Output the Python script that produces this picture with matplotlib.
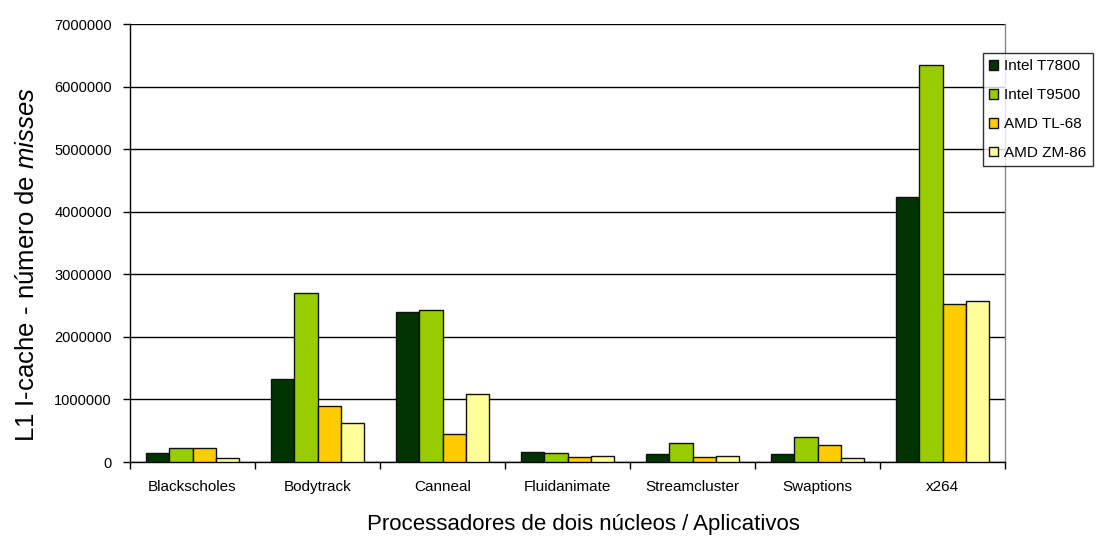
import numpy as np
import matplotlib
matplotlib.use("Agg")
import matplotlib.pyplot as plt

plt.rcParams['font.family'] = ['Liberation Sans', 'DejaVu Sans']
plt.rcParams['mathtext.fontset'] = 'custom'
plt.rcParams['mathtext.it'] = 'Liberation Sans:italic'
plt.rcParams['mathtext.rm'] = 'Liberation Sans'

categories = ["Blackscholes", "Bodytrack", "Canneal", "Fluidanimate",
              "Streamcluster", "Swaptions", "x264"]
series_names = ["Intel T7800", "Intel T9500", "AMD TL-68", "AMD ZM-86"]
intel_t7800 = [140000, 1330000, 2400000, 160000, 120000, 120000, 4230000]
intel_t9500 = [220000, 2700000, 2430000, 150000, 300000, 400000, 6350000]
amd_tl68 = [220000, 890000, 440000, 80000, 80000, 270000, 2530000]
amd_zm86 = [70000, 620000, 1080000, 90000, 90000, 60000, 2580000]
colors = ["#003300", "#99cc00", "#ffcc00", "#ffff99"]

fig = plt.figure(figsize=(10.99, 5.37), dpi=100)
ax = fig.add_axes([130 / 1099, 1 - 462 / 537, 875 / 1099, 438 / 537])

values = [intel_t7800, intel_t9500, amd_tl68, amd_zm86]
n = len(categories)
x = np.arange(n)
width = 0.187
for i, (vals, name, c) in enumerate(zip(values, series_names, colors)):
    ax.bar(x + (i - 1.5) * width, vals, width, color=c, edgecolor="#111111",
           linewidth=1.0, label=name, zorder=3)

ax.set_xlim(-0.5, n - 0.5)
ax.set_ylim(0, 7000000)
ax.set_yticks(np.arange(0, 7000001, 1000000))
ax.set_yticklabels([str(v) for v in range(0, 7000001, 1000000)], fontsize=10.5)
ax.yaxis.grid(True, color="#000000", linewidth=1.0, zorder=0)
ax.set_axisbelow(True)

ax.set_xticks(np.arange(-0.5, n, 1.0))
ax.set_xticklabels([])
ax.set_xticks(x, minor=True)
ax.set_xticklabels(categories, minor=True, fontsize=11)
ax.tick_params(axis="x", which="minor", length=0, pad=13)
ax.tick_params(axis="x", which="major", length=5, width=1, direction="out")
ax.tick_params(axis="y", length=5, width=1, direction="out", pad=8)

for s in ["left", "bottom"]:
    ax.spines[s].set_color("#000000")
    ax.spines[s].set_linewidth(1.0)
ax.spines["top"].set_visible(False)
ax.spines["right"].set_color("#888888")
ax.spines["right"].set_linewidth(1.0)

ax.set_ylabel(r"L1 I-cache - número de $\it{misses}$", fontsize=18.5)
ax.yaxis.set_label_coords(-0.104, 0.452)
ax.set_xlabel("Processadores de dois núcleos / Aplicativos", fontsize=16)
ax.xaxis.set_label_coords(0.518, -0.118)

leg = fig.legend(loc="upper left", bbox_to_anchor=(983 / 1099, 1 - 53 / 537),
                 fontsize=11, frameon=True, fancybox=False, edgecolor="#000000",
                 handlelength=0.6, handleheight=0.6, handletextpad=0.4,
                 labelspacing=0.98, borderpad=0.4, borderaxespad=0)
leg.get_frame().set_linewidth(1.0)

fig.savefig("out.png", dpi=100)
